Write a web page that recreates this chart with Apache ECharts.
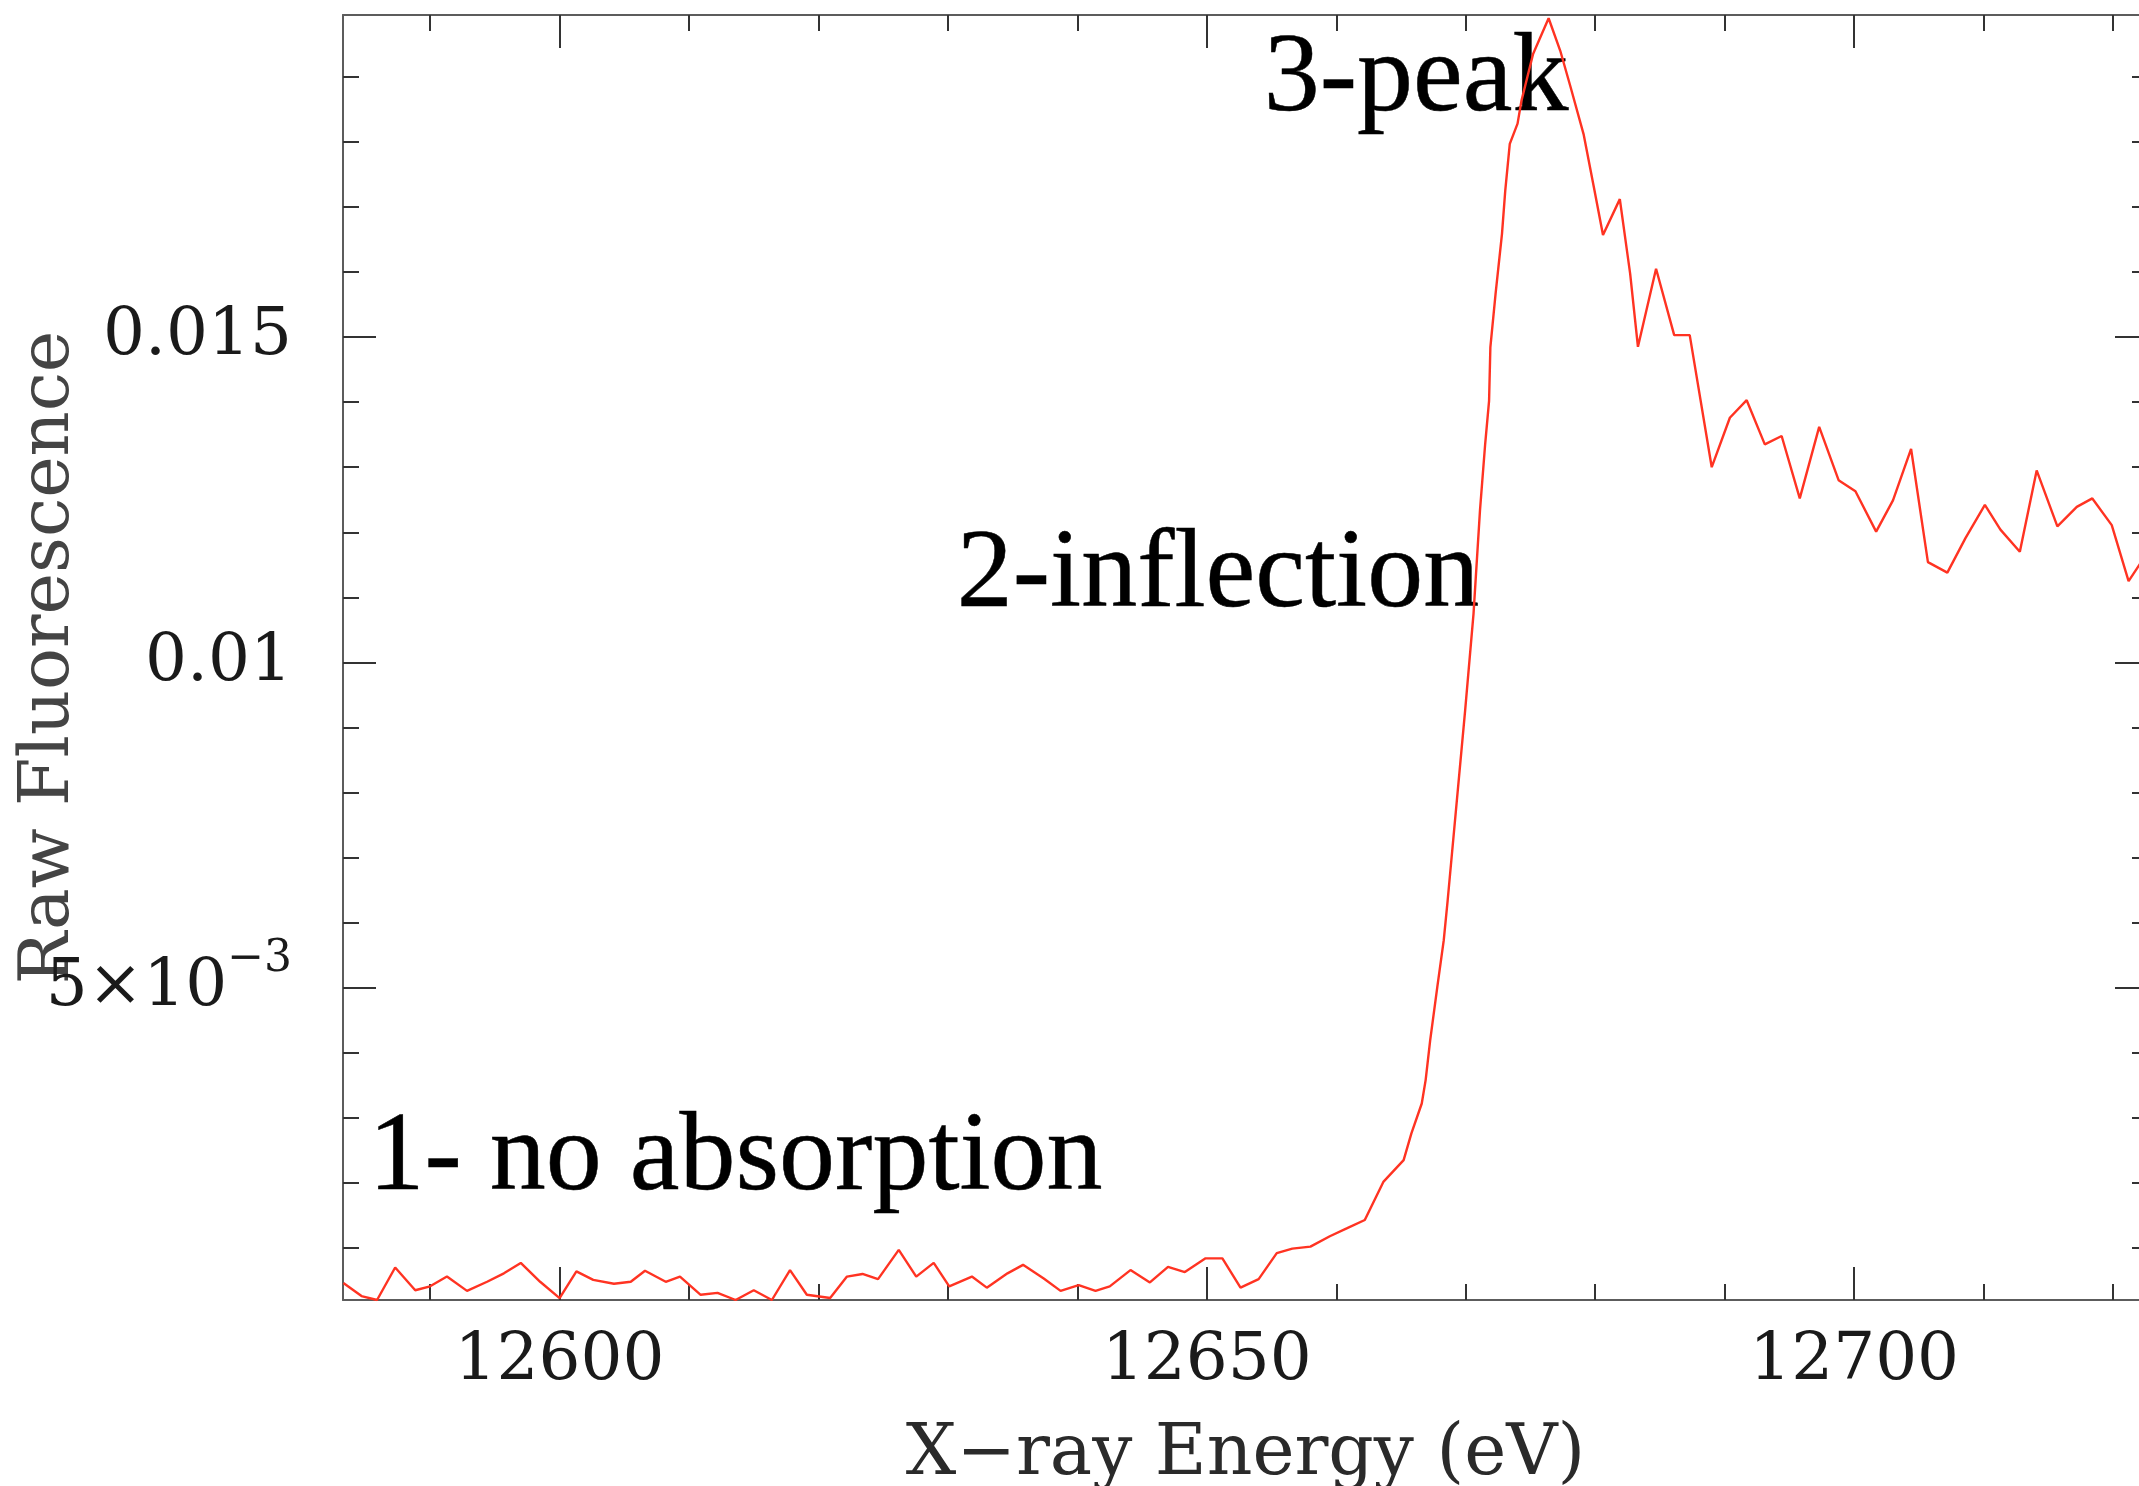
<!DOCTYPE html>
<html>
<head>
<meta charset="utf-8">
<title>Raw Fluorescence vs X-ray Energy</title>
<script src="https://cdn.jsdelivr.net/npm/echarts@6.0.0/dist/echarts.min.js"></script>
<style>
  html, body { margin: 0; padding: 0; background: #fff; }
  #chart { width: 2139px; height: 1486px; }
</style>
</head>
<body>
<div id="chart"></div>
<script>
// scan points (eV, raw fluorescence)
const energy = [
  12583.3, 12584.7, 12585.9, 12587.3, 12588.85, 12590.0, 12591.3, 12592.85, 12594.4, 12595.7,
  12597.0, 12598.5, 12600.0, 12601.3, 12602.6, 12604.2, 12605.5, 12606.6, 12608.2, 12609.3,
  12610.9, 12612.2, 12613.6, 12615.0, 12616.4, 12617.8, 12619.1, 12620.9, 12622.2, 12623.4,
  12624.6, 12626.2, 12627.55, 12628.9, 12630.1, 12631.85, 12633.0, 12634.6, 12635.8, 12637.4,
  12638.7, 12640.1, 12641.4, 12642.5, 12644.1, 12645.6, 12647.0, 12648.3, 12649.9, 12651.2,
  12652.6, 12654.0, 12655.4, 12656.6, 12658.0, 12659.5, 12660.8, 12662.2, 12663.65, 12665.2,
  12665.8, 12666.6, 12666.9, 12667.25, 12667.8, 12668.3, 12668.6, 12669.95, 12670.6, 12671.1,
  12671.5, 12671.8, 12671.9, 12672.3, 12672.8, 12673.05, 12673.4, 12674.0, 12674.3, 12675.2,
  12676.4, 12677.3, 12678.1, 12679.1, 12679.9, 12680.6, 12681.9, 12682.7, 12683.3, 12684.7,
  12686.1, 12687.3, 12689.0, 12690.4, 12691.7, 12693.1, 12694.4, 12695.8, 12697.3, 12698.8,
  12700.1, 12701.7, 12703.0, 12704.4, 12705.7, 12707.2, 12708.6, 12710.1, 12711.3, 12712.8,
  12714.1, 12715.7, 12717.2, 12718.4, 12719.9, 12721.2, 12722.7
];
const fluorescence = [
  0.00046, 0.00026, 0.00020, 0.00070, 0.00035, 0.00041, 0.00056, 0.00034, 0.00048, 0.00061,
  0.00077, 0.00048, 0.00023, 0.00064, 0.00051, 0.00045, 0.00048, 0.00065, 0.00048, 0.00056,
  0.00028, 0.00031, 0.00020, 0.00035, 0.00020, 0.00066, 0.00028, 0.00023, 0.00056, 0.00060,
  0.00052, 0.00097, 0.00056, 0.00077, 0.00041, 0.00056, 0.00039, 0.00061, 0.00074, 0.00053,
  0.00034, 0.00043, 0.00034, 0.00041, 0.00066, 0.00047, 0.00071, 0.00063, 0.00084, 0.00084,
  0.00039, 0.00052, 0.00092, 0.00099, 0.00102, 0.00118, 0.00130, 0.00143, 0.00202, 0.00235,
  0.00276, 0.00322, 0.00358, 0.00419, 0.00501, 0.00573, 0.00634, 0.00926, 0.01075, 0.01234,
  0.01336, 0.01402, 0.01484, 0.01566, 0.01659, 0.01725, 0.01797, 0.01828, 0.01863, 0.01935,
  0.01990, 0.01940, 0.01884, 0.01812, 0.01730, 0.01657, 0.01712, 0.01597, 0.01485, 0.01605,
  0.01503, 0.01503, 0.01300, 0.01376, 0.01403, 0.01335, 0.01348, 0.01252, 0.01362, 0.01280,
  0.01263, 0.01201, 0.01249, 0.01328, 0.01154, 0.01138, 0.01191, 0.01242, 0.01204, 0.01170,
  0.01295, 0.01209, 0.01239, 0.01252, 0.01211, 0.01125, 0.01170
];

// axis ticks
const xMajorTicks = [12600, 12650, 12700];
const xMinorTicks = [12590, 12610, 12620, 12630, 12640, 12660, 12670, 12680, 12690, 12710, 12720];
const yMajorTicks = [0.005, 0.01, 0.015];
const yMajorLabels = ['5×10^−3', '0.01', '0.015'];
const yMinorTicks = [0.001, 0.002, 0.003, 0.004, 0.006, 0.007, 0.008, 0.009,
  0.011, 0.012, 0.013, 0.014, 0.016, 0.017, 0.018, 0.019];

// annotations, anchored at the text baseline in data units
const annotationText = ['1- no absorption', '2-inflection', '3-peak'];
const annotationX = [12585.2, 12630.64, 12654.35];
const annotationY = [0.001874, 0.010845, 0.018464];

const xMin = 12583.27, xMax = 12722.7;
const yMin = 0.0002, yMax = 0.01995;

const tickFont = 'DejaVu Serif';
const tickColor = '#1a1a1a';
const lineColor = '#5c5c5c';

const gridBox = { left: 343, right: -9, top: 15, bottom: 186, containLabel: false, outerBoundsMode: 'none' };

function xAxisOf (grid, pos, ticks, len, withLabels) {
  return {
    gridIndex: grid,
    type: 'value',
    position: pos,
    min: xMin,
    max: xMax,
    axisLine: { show: grid === 0, onZero: false, lineStyle: { color: lineColor, width: 2 } },
    axisTick: { show: true, inside: true, length: len, customValues: ticks, lineStyle: { color: '#333', width: 2 } },
    axisLabel: withLabels ? {
      show: true,
      customValues: ticks,
      formatter: v => String(v),
      margin: 29,
      fontFamily: tickFont,
      fontSize: 66,
      color: tickColor
    } : { show: false },
    splitLine: { show: false }
  }
}

function yAxisOf (grid, pos, ticks, len, withLabels) {
  return {
    gridIndex: grid,
    type: 'value',
    position: pos,
    min: yMin,
    max: yMax,
    axisLine: { show: grid === 0, onZero: false, lineStyle: { color: lineColor, width: 2 } },
    axisTick: { show: true, inside: true, length: len, customValues: ticks, lineStyle: { color: '#333', width: 2 } },
    axisLabel: withLabels ? {
      show: true,
      customValues: ticks,
      margin: 51,
      formatter: v => {
        let i = yMajorTicks.findIndex(t => Math.abs(t - v) < 1e-9)
        let s = i < 0 ? String(v) : yMajorLabels[i]
        if (s.indexOf('^') >= 0) {
          let parts = s.split('^')
          return '{m|' + parts[0] + '}{s|' + parts[1] + '}'
        }
        return '{m|' + s + '}'
      },
      rich: {
        // tall line box for the main text so the exponent can sit high
        m: { fontFamily: tickFont, fontSize: 66, lineHeight: 100, color: tickColor, verticalAlign: 'middle' },
        s: { fontFamily: tickFont, fontSize: 44, lineHeight: 44, color: tickColor, verticalAlign: 'top' }
      }
    } : { show: false },
    splitLine: { show: false }
  }
}

const xBottom = xAxisOf(0, 'bottom', xMajorTicks, 33, true)
xBottom.name = 'X−ray Energy (eV)'
xBottom.nameLocation = 'middle'
xBottom.nameGap = 120
xBottom.nameMoveOverlap = false
xBottom.nameTextStyle = { fontFamily: tickFont, fontSize: 71, color: '#2a2a2a' }

const yLeft = yAxisOf(0, 'left', yMajorTicks, 33, true)
yLeft.name = 'Raw Fluorescence'
yLeft.nameLocation = 'middle'
yLeft.nameGap = 258
yLeft.nameMoveOverlap = false
yLeft.nameTextStyle = { fontFamily: tickFont, fontSize: 70, color: '#444' }

const option = {
  backgroundColor: '#fff',
  animation: false,
  grid: [Object.assign({}, gridBox), Object.assign({}, gridBox)],
  xAxis: [
    xBottom,
    xAxisOf(0, 'top', xMajorTicks, 33, false),
    xAxisOf(1, 'bottom', xMinorTicks, 16, false),
    xAxisOf(1, 'top', xMinorTicks, 16, false)
  ],
  yAxis: [
    yLeft,
    yAxisOf(0, 'right', yMajorTicks, 33, false),
    yAxisOf(1, 'left', yMinorTicks, 16, false),
    yAxisOf(1, 'right', yMinorTicks, 16, false)
  ],
  series: [
    {
      name: 'Raw Fluorescence',
      type: 'line',
      xAxisIndex: 0,
      yAxisIndex: 0,
      showSymbol: false,
      symbol: 'none',
      lineStyle: { color: '#ff3322', width: 2.4 },
      data: energy.map((e, i) => [e, fluorescence[i]])
    },
    {
      // text labels placed on the chart (scatter defaults to 0.8 opacity, which the labels inherit)
      type: 'scatter',
      xAxisIndex: 0,
      yAxisIndex: 0,
      silent: true,
      symbolSize: 1,
      itemStyle: { color: 'rgba(0,0,0,0)', opacity: 1 },
      label: {
        show: true,
        position: 'right',
        distance: 0,
        formatter: p => annotationText[p.dataIndex],
        fontFamily: 'Liberation Serif',
        fontWeight: 'normal',
        fontSize: 112,
        color: '#000000',
        textBorderColor: '#000000',
        textBorderWidth: 0.5
      },
      labelLayout: { hideOverlap: false, dy: -31 },
      data: annotationX.map((x, i) => [x, annotationY[i]])
    }
  ]
}

const myChart = echarts.init(document.getElementById('chart'))
myChart.setOption(option)
</script>
</body>
</html>
